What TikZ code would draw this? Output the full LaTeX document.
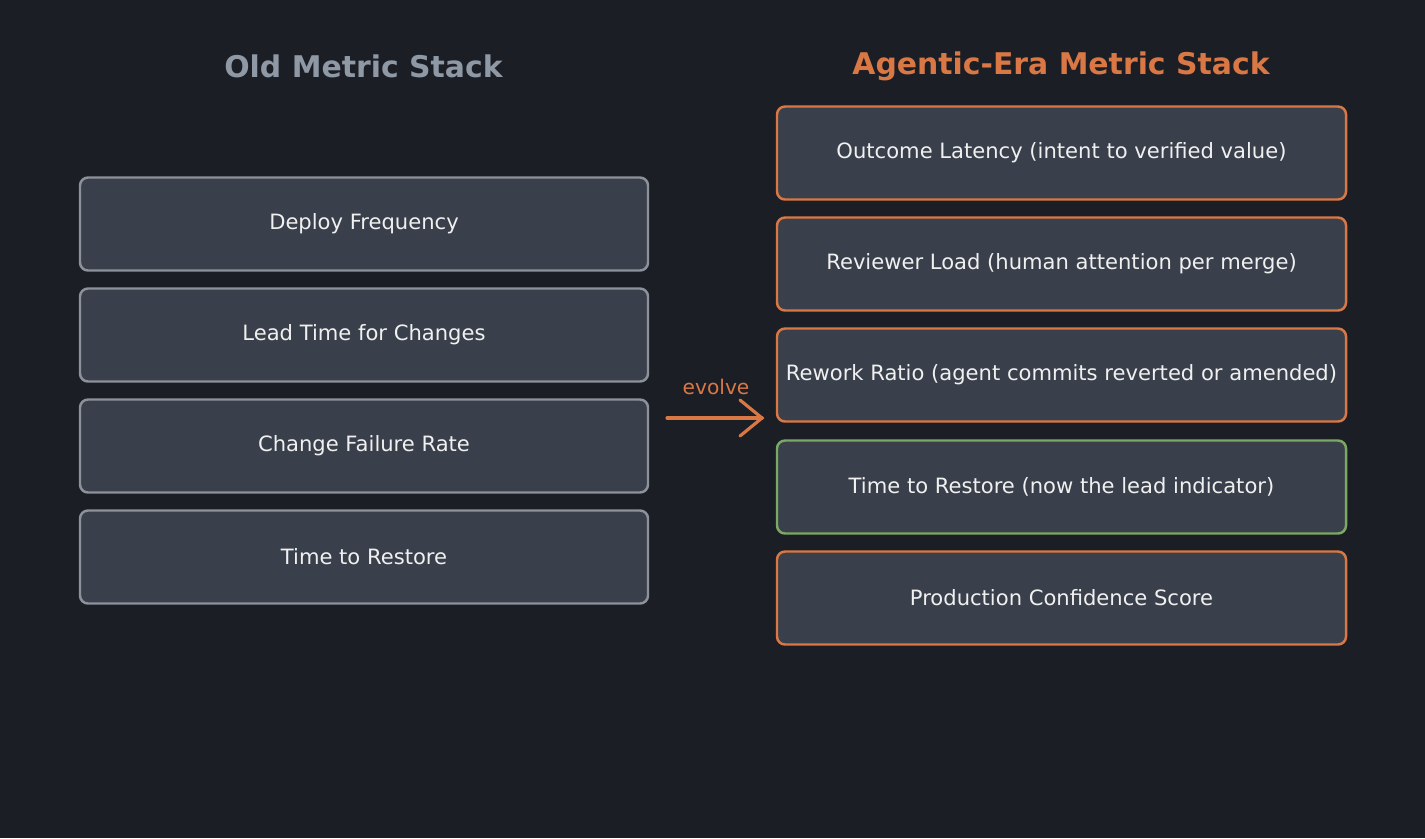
\documentclass[tikz,border=0pt]{standalone}
\usepackage{fontspec}
\setmainfont{DejaVu Sans}
\usetikzlibrary{positioning}
\definecolor{bgc}{HTML}{1B1E25}
\definecolor{boxc}{HTML}{3A404B}
\definecolor{oldc}{HTML}{8C919A}
\definecolor{titlec}{HTML}{8F98A5}
\definecolor{newc}{HTML}{D97845}
\definecolor{goodc}{HTML}{7BA862}
\definecolor{txtc}{HTML}{F0F0F0}
\tikzset{
  metric/.style={draw=#1,fill=boxc,line width=1.4pt,rounded corners=0.16cm,
    minimum height=1.86cm,text=txtc,font=\fontsize{12}{14}\selectfont,inner sep=0pt},
  oldbox/.style={metric=oldc,minimum width=11.36cm},
  newbox/.style={metric=newc,minimum width=11.38cm},
  heading/.style={font=\fontsize{17}{20}\selectfont\bfseries}
}
\begin{document}
\begin{tikzpicture}

\fill[bgc] (0,0) rectangle (28.5,-16.76);
\useasboundingbox (0,0) rectangle (28.5,-16.76);

% titles
\node[heading,text=titlec] (oldtitle) at (7.27,-1.32) {Old Metric Stack};
\node[heading,text=newc] (newtitle) at (21.22,-1.32) {Agentic-Era Metric Stack};

% old stack
\node[oldbox] (deploy) at (7.28,-4.48) {Deploy Frequency};
\node[oldbox] (lead) at (7.28,-6.70) {Lead Time for Changes};
\node[oldbox] (fail) at (7.28,-8.92) {Change Failure Rate};
\node[oldbox] (restore) at (7.28,-11.14) {Time to Restore};

% new stack
\node[newbox] (latency) at (21.23,-3.06) {Outcome Latency (intent to verified value)};
\node[newbox] (review) at (21.23,-5.28) {Reviewer Load (human attention per merge)};
\node[newbox] (rework) at (21.23,-7.50) {Rework Ratio (agent commits reverted or amended)};
\node[newbox,draw=goodc] (lead2) at (21.23,-9.74) {Time to Restore (now the lead indicator)};
\node[newbox] (score) at (21.23,-11.96) {Production Confidence Score};

% arrow
\coordinate (from) at (13.34,-8.36);
\coordinate (to) at (15.24,-8.36);
\draw[newc,line width=1.8pt,line cap=round] (from) -- (to);
\draw[newc,line width=1.8pt,line cap=round] (14.8,-8.0) -- (to) -- (14.8,-8.72);
\node[text=newc,font=\fontsize{11.5}{13}\selectfont] (evolve) at (14.32,-7.74) {evolve};

\end{tikzpicture}
\end{document}
